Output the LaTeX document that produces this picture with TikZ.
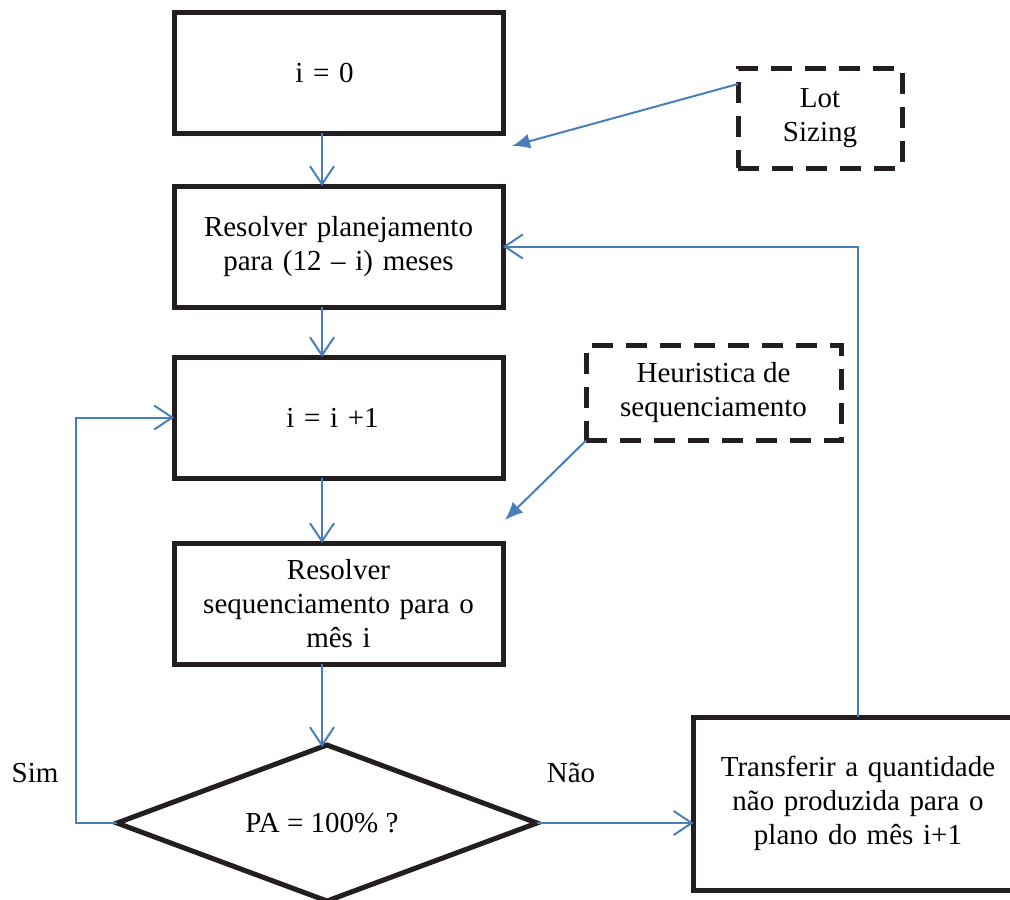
\documentclass[tikz,border=0pt]{standalone}
\usepackage{fontspec}
\setmainfont{Liberation Serif}
\usetikzlibrary{arrows.meta,shapes.geometric}
\definecolor{flowblue}{RGB}{74,126,187}
\definecolor{ink}{RGB}{35,31,32}
\tikzset{
  stepbox/.style={draw=ink, line width=5pt, minimum width=329pt, minimum height=121pt,
    inner sep=0pt, outer sep=0pt, align=center, text width=300pt,
    font=\fontsize{29}{34}\selectfont},
  helperbox/.style={draw=ink, line width=5pt, dash pattern=on 21pt off 13pt,
    inner sep=0pt, outer sep=0pt, align=center, font=\fontsize{29}{34}\selectfont},
  decision/.style={draw=ink, line width=5pt, diamond, shape aspect=2.69,
    minimum width=420pt, minimum height=156pt, inner sep=0pt, outer sep=0pt,
    font=\fontsize{29}{34}\selectfont},
  flow/.style={draw=flowblue, line width=2pt, -{Straight Barb[length=18pt,width=24pt,line width=2pt]}},
  hint/.style={draw=flowblue, line width=2pt, -{Latex[length=18pt,width=15pt]}},
  tag/.style={font=\fontsize{29}{34}\selectfont}
}
\begin{document}
\begin{tikzpicture}[x=1pt,y=-1pt]
% fixed page frame; shapes running past it are cut off
\path[use as bounding box, clip] (0,0) rectangle (1010,900);
\fill[white] (0,0) rectangle (1010,900);

% main steps
\node[stepbox] (b1) at (338.5,72.5) {\hspace*{-28pt}i = 0};
\node[stepbox] (b2) at (338.5,246.5) {Resolver planejamento\\para (12 – i) meses};
\node[stepbox] (b3) at (338.5,417.5) {\hspace*{-12pt}i = i +1};
\node[stepbox] (b4) at (338.5,603.5) {Resolver\\sequenciamento para o\\mês i};
\node[decision] (dia) at (327,823) {\hspace*{-10pt}PA = 100\% ?};
\node[stepbox, minimum height=173pt] (b5) at (858,803.5) {Transferir a quantidade\\não produzida para o\\plano do mês i+1};

% auxiliary inputs
\node[helperbox, minimum width=164pt, minimum height=100pt] (lot) at (820,118) {Lot\\Sizing};
\node[helperbox, minimum width=255pt, minimum height=95pt] (heu) at (713.5,393) {Heuristica de\\sequenciamento};

\coordinate (lotend) at (512,146);
\coordinate (heuend) at (505,520);

% vertical flow
\draw[flow] ([xshift=-16.5pt]b1.south) -- ([xshift=-16.5pt]b2.north);
\draw[flow] ([xshift=-16.5pt]b2.south) -- ([xshift=-16.5pt]b3.north);
\draw[flow] ([xshift=-16.5pt]b3.south) -- ([xshift=-16.5pt]b4.north);
\draw[flow] ([xshift=-16.5pt]b4.south) -- ([xshift=-5pt,yshift=-2pt]dia.north);

% branches
\draw[flow] (dia.west) -- ++(-41,0) |- (b3.west);
\draw[flow] (dia.east) -- (dia.east -| b5.west);
\draw[flow] (b5.north) |- (b2.east);

% inputs
\draw[hint] ([yshift=-16pt]lot.north west) -- (lotend);
\draw[hint] (heu.south west) -- (heuend);

% branch labels
\node[tag] (sim) at (35,773) {Sim};
\node[tag] (nao) at (571,773) {Não};
\end{tikzpicture}
\end{document}
